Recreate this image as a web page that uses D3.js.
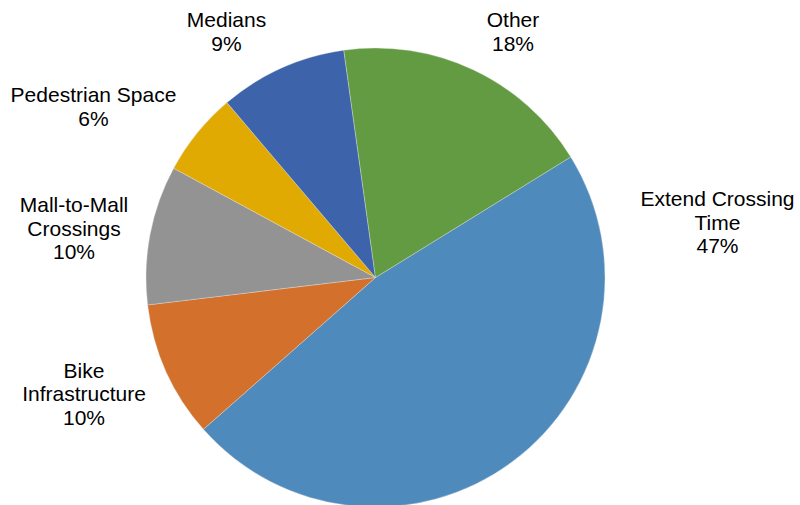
<!DOCTYPE html>
<html>
<head>
<meta charset="utf-8">
<script src="https://cdn.jsdelivr.net/npm/d3@7"></script>
<style>
html,body{margin:0;padding:0;background:#fff;}
svg{display:block;}
text{font-family:"Liberation Sans",Arial,sans-serif;font-size:21px;fill:#000;}
</style>
</head>
<body>
<svg id="chart" width="800" height="505"></svg>
<script>
// Data
const categories = ["Extend Crossing Time", "Bike Infrastructure", "Mall-to-Mall Crossings", "Pedestrian Space", "Medians", "Other"];
const values = [47.3, 9.6, 9.8, 5.9, 9.0, 18.4];
const labelLines = [["Extend Crossing", "Time"], ["Bike", "Infrastructure"], ["Mall-to-Mall", "Crossings"], ["Pedestrian Space"], ["Medians"], ["Other"]];
const colors = ["#4f8abd", "#d3702c", "#939393", "#e1aa02", "#3d64aa", "#629b41"];

// Layout (label anchor positions: centre x, first baseline y)
const labelPos = [[717.5, 206], [84, 377.5], [74, 212], [93.5, 102], [226.5, 27], [513, 27]];
const cx = 375.5, cy = 277.5, radius = 229.5;
const startDeg = 58.3;
const lineH = 23.5;

const svg = d3.select("#chart");
const g = svg.append("g").attr("transform", `translate(${cx},${cy})`);

const startA = startDeg * Math.PI / 180;
const pie = d3.pie().sort(null).value(d => d.v).startAngle(startA).endAngle(startA + 2 * Math.PI);
const arc = d3.arc().innerRadius(0).outerRadius(radius);

const data = categories.map((c, i) => ({c, v: values[i], i}));
const arcs = pie(data);

g.selectAll("path.slice").data(arcs).enter().append("path")
  .attr("class", "slice")
  .attr("d", arc)
  .attr("fill", d => colors[d.data.i])
  .attr("stroke", "#e8e8e8")
  .attr("stroke-width", 0.35)
  .attr("stroke-linejoin", "round");

const total = d3.sum(values);
const labels = svg.selectAll("text.lbl").data(arcs).enter().append("text")
  .attr("class", "lbl")
  .attr("text-anchor", "middle")
  .attr("x", d => labelPos[d.data.i][0])
  .attr("y", d => labelPos[d.data.i][1]);

labels.each(function(d) {
  const t = d3.select(this);
  const lines = labelLines[d.data.i].concat([Math.round(d.data.v / total * 100) + "%"]);
  lines.forEach((s, k) => {
    t.append("tspan")
      .attr("x", labelPos[d.data.i][0])
      .attr("dy", k === 0 ? 0 : lineH)
      .text(s);
  });
});
</script>
</body>
</html>
